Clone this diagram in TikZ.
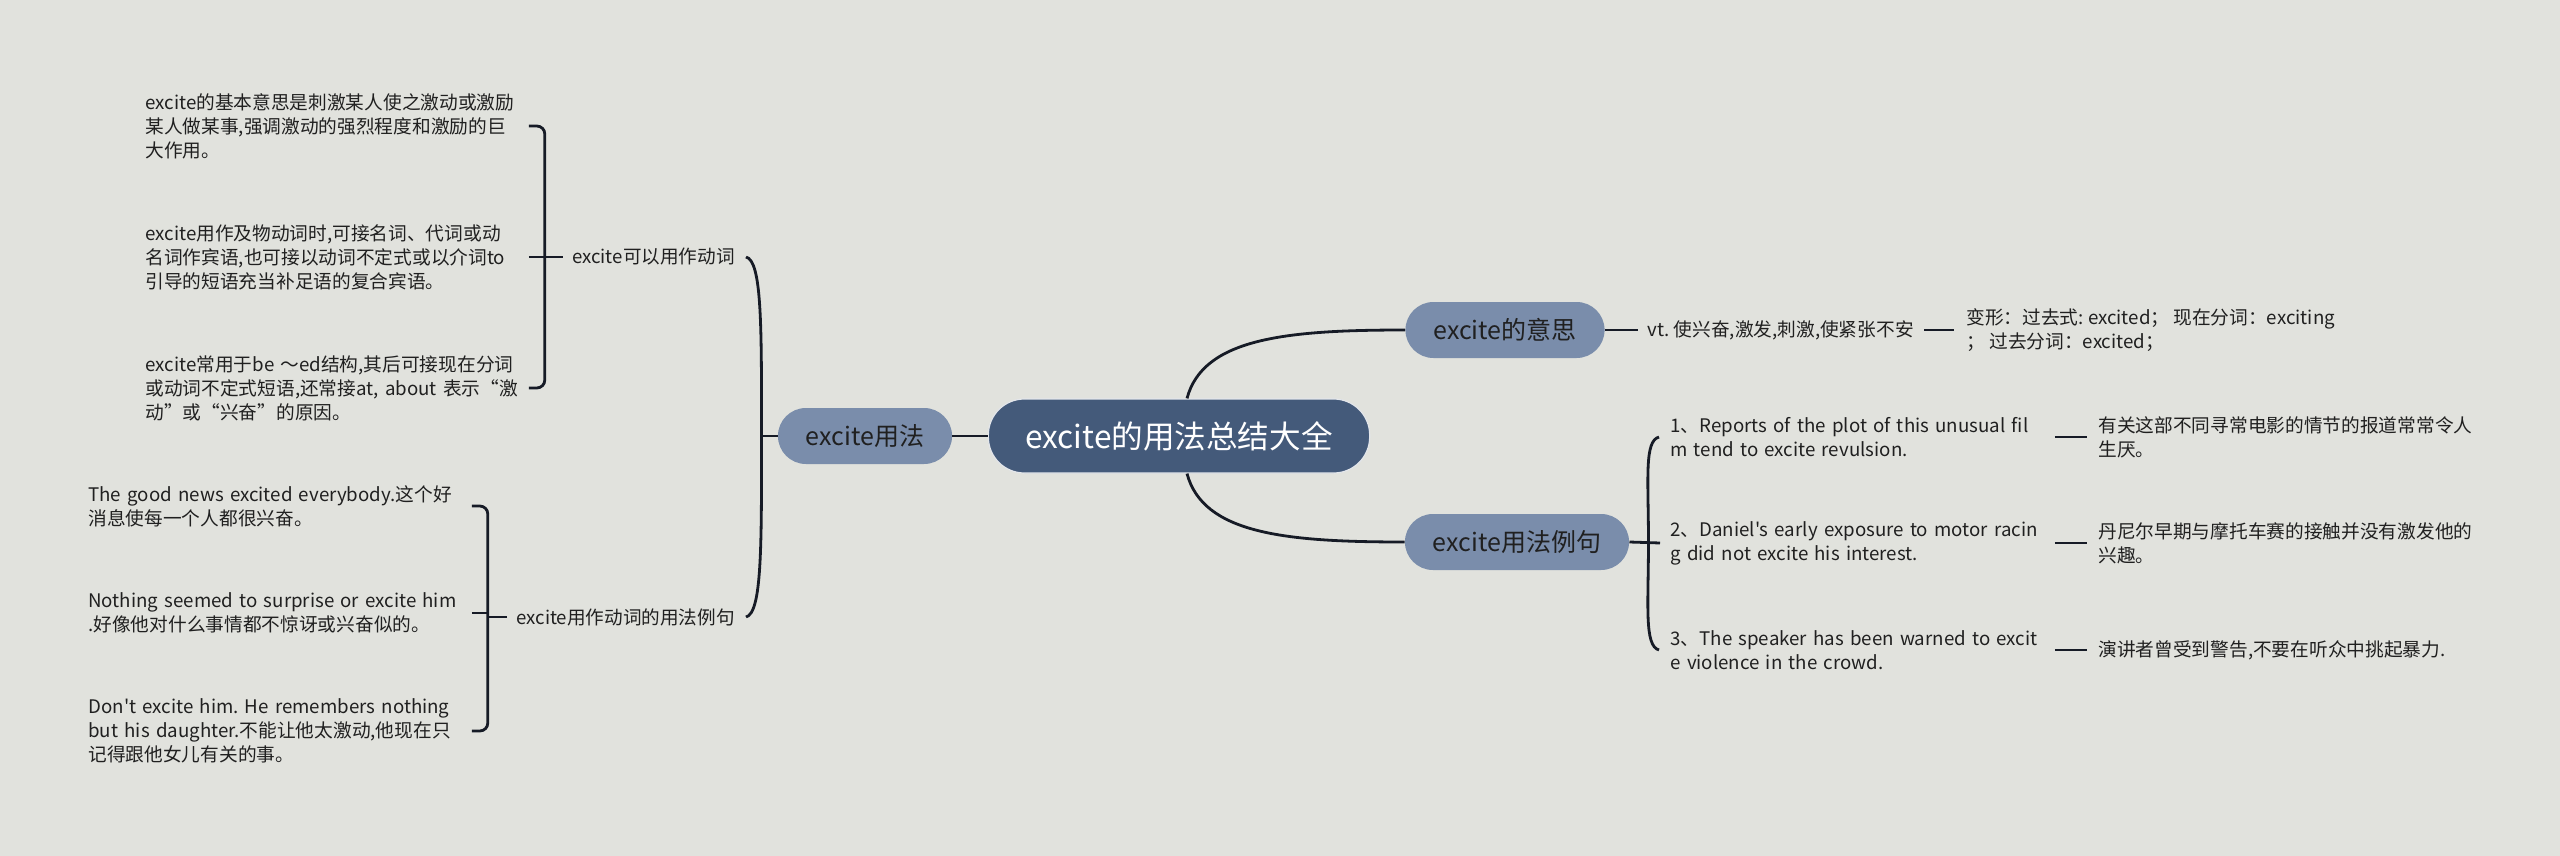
\documentclass[tikz,border=0pt]{standalone}
\usepackage{fontspec}
\setmainfont{Noto Sans CJK SC}[Ligatures=TeXOff]
\usetikzlibrary{calc}
\definecolor{bgc}{RGB}{225,226,221}
\definecolor{rootc}{RGB}{68,90,122}
\definecolor{pillc}{RGB}{122,141,171}
\definecolor{linec}{RGB}{22,27,38}
\definecolor{txtc}{RGB}{32,32,32}
\tikzset{
  rootbox/.style={fill=rootc, draw=white!85!rootc, line width=0.6pt, rounded corners=18pt,
    minimum height=37pt, inner xsep=18.5pt, text=white, font={\fontsize{15.8}{17}\selectfont}},
  pillbox/.style={fill=pillc, rounded corners=14pt, minimum height=28pt, inner xsep=14pt,
    text=txtc, font={\fontsize{12.5}{14}\selectfont}},
  leaf/.style={inner sep=0pt, align=left, text=txtc, font={\frenchspacing\fontsize{9.35}{12}\selectfont}},
  wleaf/.style={leaf, text width=191.5pt},
  lbl/.style={inner sep=0pt, text=txtc, font={\fontsize{9.3}{11}\selectfont}},
  conn/.style={draw=linec, line width=1.4pt},
}
\begin{document}
\begin{tikzpicture}[x=0.5pt,y=-0.5pt]
\useasboundingbox (0,0) rectangle (2560,856);
\fill[bgc] (0,0) rectangle (2560,856);

% main nodes
\node[rootbox] (root) at (1179,436) {excite的用法总结大全};
\node[pillbox] (yf) at (865,436) {excite用法};
\node[pillbox] (ys) at (1505,330) {excite的意思};
\node[pillbox] (lj) at (1517,542) {excite用法例句};

% left labels
\node[lbl, anchor=east] (l1) at (735,257) {excite可以用作动词};
\node[lbl, anchor=east] (l2) at (735,617) {excite用作动词的用法例句};

% left leaves group 1
\node[wleaf, anchor=west] (a1) at (145,126) {excite的基本意思是刺激某人使之激动或激励\\某人做某事,强调激动的强烈程度和激励的巨\\大作用。};
\node[wleaf, anchor=west] (a2) at (145,257) {excite用作及物动词时,可接名词、代词或动\\名词作宾语,也可接以动词不定式或以介词to\\引导的短语充当补足语的复合宾语。};
\node[wleaf, anchor=west] (a3) at (145,388) {excite常用于be ～ed结构,其后可接现在分词\\或动词不定式短语,还常接at, about 表示“激\\动”或“兴奋”的原因。};

% left leaves group 2
\node[wleaf, anchor=west] (b1) at (88,506) {The good news excited everybody.这个好\\消息使每一个人都很兴奋。};
\node[wleaf, anchor=west] (b2) at (88,613) {Nothing seemed to surprise or excite him\\.好像他对什么事情都不惊讶或兴奋似的。};
\node[wleaf, anchor=west] (b3) at (88,731) {Don't excite him. He remembers nothing\\but his daughter.不能让他太激动,他现在只\\记得跟他女儿有关的事。};

% right: meaning
\node[leaf, anchor=west] (vt) at (1647,330) {vt. 使兴奋,激发,刺激,使紧张不安};
\node[leaf, anchor=west] (bx) at (1966,330) {变形：过去式: excited；\ 现在分词：exciting\\；\ 过去分词：excited；};

% right: examples
\node[leaf, anchor=west, text width=192pt] (e1) at (1670,437) {1、Reports of the plot of this unusual fil\\m tend to excite revulsion.};
\node[leaf, anchor=west, text width=192pt] (e2) at (1670,543) {2、Daniel's early exposure to motor racin\\g did not excite his interest.};
\node[leaf, anchor=west, text width=192pt] (e3) at (1670,650) {3、The speaker has been warned to excit\\e violence in the crowd.};
\node[leaf, anchor=west] (t1) at (2098,437) {有关这部不同寻常电影的情节的报道常常令人\\生厌。};
\node[leaf, anchor=west] (t2) at (2098,543) {丹尼尔早期与摩托车赛的接触并没有激发他的\\兴趣。};
\node[leaf, anchor=west] (t3) at (2098,650) {演讲者曾受到警告,不要在听众中挑起暴力.};

% connectors: root
\draw[conn] (root.west) -- (yf.east);
\draw[conn] ($(root.north)+(8,0)$) .. controls +(16,-60) and +(-120,0) .. (ys.west);
\draw[conn] ($(root.south)+(8,0)$) .. controls +(16,60) and +(-120,0) .. (lj.west);

% big left bracket
\coordinate (j1) at ($(yf.west)+(-16,0)$);
\draw[conn] (yf.west) -- (j1);
\draw[conn] (j1) .. controls +(0,-110) and +(16,4) .. ($(l1.east)+(11,0)$);
\draw[conn] (j1) .. controls +(0,110) and +(16,-4) .. ($(l2.east)+(11,0)$);

% group 1 bracket
\coordinate (v1) at ($(a2.east)+(16,0)$);
\draw[conn, rounded corners=4pt] (a1.east) -| (v1) |- (a3.east);
\draw[conn] (a2.east) -- (v1);
\draw[conn] ($(l1.west)+(-9,0)$) -- (l1.west -| v1);

% group 2 bracket
\coordinate (v2) at ($(b2.east)+(16,0)$);
\draw[conn, rounded corners=4pt] (b1.east) -| (v2) |- (b3.east);
\draw[conn] (b2.east) -- (v2);
\draw[conn] ($(l2.west)+(-9,0)$) -- (l2.west -| v2);

% meaning chain
\draw[conn] (ys.east) -- ($(vt.west)+(-9,0)$);
\draw[conn] ($(vt.east)+(10,0)$) -- ($(bx.west)+(-12,0)$);

% examples bracket
\coordinate (j2) at ($(lj.east)+(19,0)$);
\draw[conn] (lj.east) -- ($(e2.west)+(-10,0)$);
\draw[conn] (j2) .. controls +(0,-63) and +(-15,4) .. ($(e1.west)+(-11,0)$);
\draw[conn] (j2) .. controls +(0,63) and +(-15,-4) .. ($(e3.west)+(-11,0)$);

% translations
\draw[conn] (e1.east) -- ($(t1.west)+(-11,0)$);
\draw[conn] (e2.east) -- ($(t2.west)+(-11,0)$);
\draw[conn] (e3.east) -- ($(t3.west)+(-11,0)$);
\end{tikzpicture}
\end{document}
